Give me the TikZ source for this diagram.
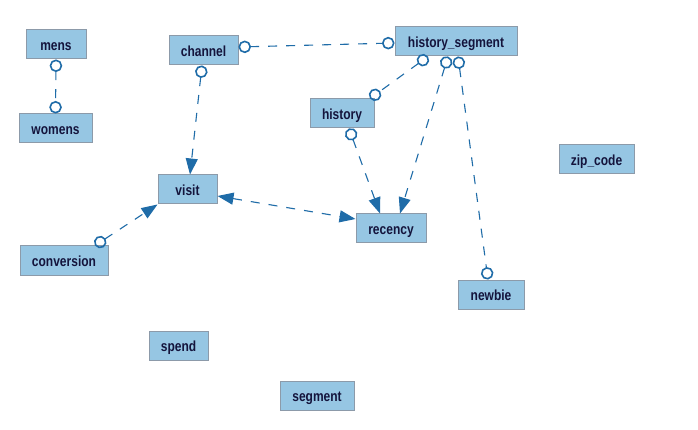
\documentclass[tikz,border=0pt]{standalone}
\usepackage{fontspec}
\setmainfont{Liberation Sans}
\usetikzlibrary{arrows.meta,calc}
\definecolor{boxfill}{HTML}{96C6E3}
\definecolor{boxline}{HTML}{8C9AA9}
\definecolor{edge}{HTML}{1F6CA8}
\definecolor{txt}{HTML}{14143C}
\newcommand{\lbl}[1]{\scalebox{1}[1.22]{#1}}
\tikzset{
  ent/.style={draw=boxline, fill=boxfill, line width=1pt, inner sep=0pt,
    minimum height=29pt, text height=12pt, text depth=0pt, text=txt,
    font=\fontsize{12}{14}\selectfont\bfseries},
  rel/.style={draw=edge, line width=1.1pt, dash pattern=on 9pt off 9pt},
  oc/.tip={Circle[open, length=12.5pt, width=12.5pt, line width=1.6pt]},
  tr/.tip={Triangle[length=16pt, width=12pt]}
}
\begin{document}
\begin{tikzpicture}[x=1pt,y=-1pt]
\useasboundingbox[fill=white] (0,0) rectangle (698,430);
\node[ent, minimum width=60pt] (mens) at (56,44.5) {\lbl{mens}};
\node[ent, minimum width=73pt] (womens) at (55.5,128.5) {\lbl{womens}};
\node[ent, minimum width=69pt] (channel) at (203.5,50.5) {\lbl{channel}};
\node[ent, minimum width=122pt] (hs) at (456,41.5) {\lbl{history\_segment}};
\node[ent, minimum width=64pt] (history) at (342,113.5) {\lbl{history}};
\node[ent, minimum width=59pt] (visit) at (187.5,189.5) {\lbl{visit}};
\node[ent, minimum width=70pt] (recency) at (391,228.5) {\lbl{recency}};
\node[ent, minimum width=88pt] (conversion) at (64,260.5) {\lbl{conversion}};
\node[ent, minimum width=75pt] (zip) at (596.5,159.5) {\lbl{zip\_code}};
\node[ent, minimum width=66pt] (newbie) at (491,294.5) {\lbl{newbie}};
\node[ent, minimum width=59pt] (spend) at (178.5,345.5) {\lbl{spend}};
\node[ent, minimum width=74pt] (segment) at (317,395.5) {\lbl{segment}};

\draw[rel, oc-oc] (mens.south) -- (womens.north);
\draw[rel, oc-oc] ($(channel.east)+(0,-3.5)$) -- ($(hs.west)+(0,1.5)$);
\draw[rel, oc-tr] ($(channel.south)+(-1.5,0)$) -- ($(visit.north)+(2.5,0)$);
\draw[rel, oc-oc] ($(hs.south)+(-28,0)$) -- ($(history.north)+(28,0)$);
\draw[rel, oc-tr] ($(hs.south)+(-8,0)$) -- ($(recency.north)+(9,0)$);
\draw[rel, oc-oc] ($(hs.south)+(2,0)$) -- ($(newbie.north)+(-3,0)$);
\draw[rel, oc-tr] ($(history.south)+(7,0)$) -- ($(recency.north)+(-11,0)$);
\draw[rel, tr-tr] ($(visit.east)+(0,6.5)$) -- ($(recency.west)+(0,-9.5)$);
\draw[rel, oc-tr] ($(conversion.north)+(31,0)$) -- (visit.south west);
\end{tikzpicture}
\end{document}
